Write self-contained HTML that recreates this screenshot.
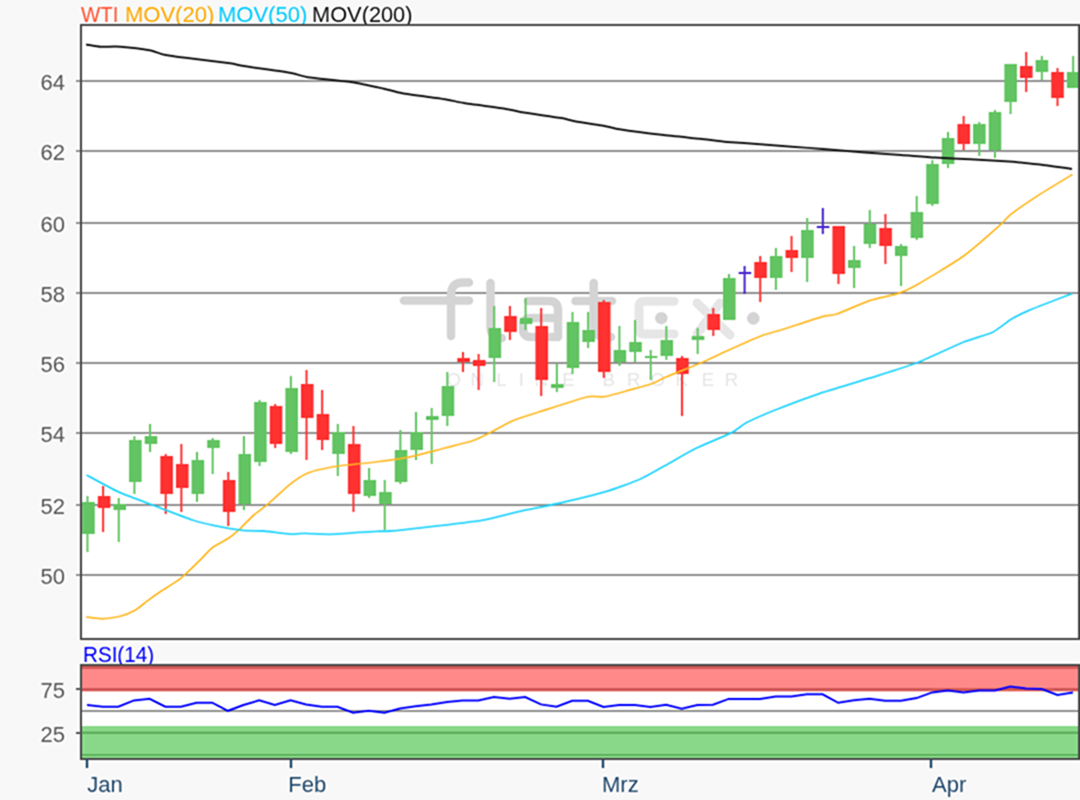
<!DOCTYPE html><html><head><meta charset="utf-8"><style>html,body{margin:0;padding:0;background:#f8f8f8;width:1080px;height:800px;overflow:hidden}svg{display:block}text{font-family:"Liberation Sans",sans-serif}</style></head><body>
<svg width="1080" height="800" viewBox="0 0 1080 800">
<defs><filter id="up" x="0" y="0" width="1080" height="800" filterUnits="userSpaceOnUse" color-interpolation-filters="sRGB"><feConvolveMatrix order="7" kernelMatrix="9 18 -105 -228 -105 18 9 18 36 -210 -456 -210 36 18 -105 -210 1225 2660 1225 -210 -105 -228 -456 2660 5776 2660 -456 -228 -105 -210 1225 2660 1225 -210 -105 18 36 -210 -456 -210 36 18 9 18 -105 -228 -105 18 9" divisor="16384" edgeMode="duplicate"/></filter></defs><g filter="url(#up)">
<rect x="0" y="0" width="1080" height="800" fill="#f8f8f8"/>
<text x="81" y="22" font-size="22" fill="#ff5533" textLength="37.5" lengthAdjust="spacingAndGlyphs">WTI</text>
<text x="125" y="22" font-size="22" fill="#ffaa00">MOV(20)</text>
<text x="218" y="22" font-size="22" fill="#00ccff">MOV(50)</text>
<text x="312" y="22" font-size="22" fill="#111" textLength="100.5" lengthAdjust="spacingAndGlyphs">MOV(200)</text>
<rect x="81" y="25" width="999" height="614" fill="#fff"/>
<line x1="76" y1="575.0" x2="1079" y2="575.0" stroke="#919191" stroke-width="2"/>
<text transform="translate(65,584.0) scale(1,1.04)" font-size="22" fill="#5a5a5a" text-anchor="end">50</text>
<line x1="76" y1="505.0" x2="1079" y2="505.0" stroke="#919191" stroke-width="2"/>
<text transform="translate(65,514.0) scale(1,1.04)" font-size="22" fill="#5a5a5a" text-anchor="end">52</text>
<line x1="76" y1="433.0" x2="1079" y2="433.0" stroke="#919191" stroke-width="2"/>
<text transform="translate(65,442.0) scale(1,1.04)" font-size="22" fill="#5a5a5a" text-anchor="end">54</text>
<line x1="76" y1="363.0" x2="1079" y2="363.0" stroke="#919191" stroke-width="2"/>
<text transform="translate(65,372.0) scale(1,1.04)" font-size="22" fill="#5a5a5a" text-anchor="end">56</text>
<line x1="76" y1="293.0" x2="1079" y2="293.0" stroke="#919191" stroke-width="2"/>
<text transform="translate(65,302.0) scale(1,1.04)" font-size="22" fill="#5a5a5a" text-anchor="end">58</text>
<line x1="76" y1="223.0" x2="1079" y2="223.0" stroke="#919191" stroke-width="2"/>
<text transform="translate(65,232.0) scale(1,1.04)" font-size="22" fill="#5a5a5a" text-anchor="end">60</text>
<line x1="76" y1="151.0" x2="1079" y2="151.0" stroke="#919191" stroke-width="2"/>
<text transform="translate(65,160.0) scale(1,1.04)" font-size="22" fill="#5a5a5a" text-anchor="end">62</text>
<line x1="76" y1="81.0" x2="1079" y2="81.0" stroke="#919191" stroke-width="2"/>
<text transform="translate(65,90.0) scale(1,1.04)" font-size="22" fill="#5a5a5a" text-anchor="end">64</text>
<g fill="none" stroke="#d4d4d4" stroke-width="8.5" stroke-linecap="round" stroke-linejoin="round">
<path d="M404,300.5 H469"/>
<path d="M451,336 V295 Q451,282.5 463,282.5 H469"/>
<path d="M490.5,283 V326 Q490.5,338 502,338"/>
<path d="M528,301 H549 Q558,301 558,310 V337 H531 Q523,337 523,329 V326 Q523,318 531,318 H558"/>
<path d="M593.7,283 V326 Q593.7,337 605,337 H611 M575.5,301 H612"/>
</g>
<g fill="none" stroke="#e6e6e6" stroke-width="9" stroke-linecap="round" stroke-linejoin="round">
<path d="M674,301.2 H644 Q639,301.2 639,306 V329 Q639,334 644,334 H674"/>
<path d="M697,303 L730,335 M720,303 L697,334"/>
</g>
<circle cx="661.3" cy="318.2" r="6.2" fill="#d4d4d4"/><circle cx="753.3" cy="318.4" r="6.3" fill="#d4d4d4"/>
<text x="446.5" y="385.5" font-size="18.5" fill="#e6e6e6">O</text>
<text x="470.5" y="385.5" font-size="18.5" fill="#e6e6e6">N</text>
<text x="496.3" y="385.5" font-size="18.5" fill="#e6e6e6">L</text>
<text x="518.7" y="385.5" font-size="18.5" fill="#e6e6e6">I</text>
<text x="534.5" y="385.5" font-size="18.5" fill="#e6e6e6">N</text>
<text x="562.2" y="385.5" font-size="18.5" fill="#e6e6e6">E</text>
<text x="602.5" y="385.5" font-size="18.5" fill="#e6e6e6">B</text>
<text x="627.0" y="385.5" font-size="18.5" fill="#e6e6e6">R</text>
<text x="650.5" y="385.5" font-size="18.5" fill="#e6e6e6">O</text>
<text x="675.5" y="385.5" font-size="18.5" fill="#e6e6e6">K</text>
<text x="701.8" y="385.5" font-size="18.5" fill="#e6e6e6">E</text>
<text x="724.8" y="385.5" font-size="18.5" fill="#e6e6e6">R</text>
<rect x="86.47" y="496" width="2" height="56" fill="#62c462"/>
<rect x="82.17" y="502" width="12.6" height="32" fill="#62c462"/>
<rect x="102.12" y="486" width="2" height="46" fill="#ff3030"/>
<rect x="97.80" y="496" width="12.6" height="12" fill="#ff3030"/>
<rect x="117.76" y="498" width="2" height="44" fill="#62c462"/>
<rect x="113.43" y="504" width="12.6" height="6" fill="#62c462"/>
<rect x="133.41" y="436" width="2" height="58" fill="#62c462"/>
<rect x="129.06" y="440" width="12.6" height="42" fill="#62c462"/>
<rect x="149.05" y="424" width="2" height="28" fill="#62c462"/>
<rect x="144.69" y="436" width="12.6" height="8" fill="#62c462"/>
<rect x="164.70" y="454" width="2" height="60" fill="#ff3030"/>
<rect x="160.32" y="456" width="12.6" height="38" fill="#ff3030"/>
<rect x="180.35" y="444" width="2" height="68" fill="#ff3030"/>
<rect x="175.95" y="464" width="12.6" height="24" fill="#ff3030"/>
<rect x="195.99" y="452" width="2" height="50" fill="#62c462"/>
<rect x="191.58" y="460" width="12.6" height="34" fill="#62c462"/>
<rect x="211.64" y="438" width="2" height="36" fill="#62c462"/>
<rect x="207.21" y="440" width="12.6" height="8" fill="#62c462"/>
<rect x="227.28" y="472" width="2" height="54" fill="#ff3030"/>
<rect x="222.84" y="480" width="12.6" height="32" fill="#ff3030"/>
<rect x="242.93" y="436" width="2" height="74" fill="#62c462"/>
<rect x="238.47" y="454" width="12.6" height="50" fill="#62c462"/>
<rect x="258.57" y="400" width="2" height="66" fill="#62c462"/>
<rect x="254.10" y="402" width="12.6" height="60" fill="#62c462"/>
<rect x="274.22" y="404" width="2" height="44" fill="#ff3030"/>
<rect x="269.73" y="406" width="12.6" height="38" fill="#ff3030"/>
<rect x="289.87" y="376" width="2" height="78" fill="#62c462"/>
<rect x="285.36" y="388" width="12.6" height="64" fill="#62c462"/>
<rect x="305.51" y="370" width="2" height="90" fill="#ff3030"/>
<rect x="300.99" y="384" width="12.6" height="34" fill="#ff3030"/>
<rect x="321.16" y="390" width="2" height="60" fill="#ff3030"/>
<rect x="316.62" y="414" width="12.6" height="26" fill="#ff3030"/>
<rect x="336.80" y="424" width="2" height="52" fill="#62c462"/>
<rect x="332.25" y="432" width="12.6" height="22" fill="#62c462"/>
<rect x="352.45" y="426" width="2" height="86" fill="#ff3030"/>
<rect x="347.88" y="444" width="12.6" height="50" fill="#ff3030"/>
<rect x="368.10" y="468" width="2" height="30" fill="#62c462"/>
<rect x="363.51" y="480" width="12.6" height="16" fill="#62c462"/>
<rect x="383.74" y="480" width="2" height="50" fill="#62c462"/>
<rect x="379.14" y="492" width="12.6" height="12" fill="#62c462"/>
<rect x="399.39" y="430" width="2" height="54" fill="#62c462"/>
<rect x="394.77" y="450" width="12.6" height="32" fill="#62c462"/>
<rect x="415.03" y="412" width="2" height="48" fill="#62c462"/>
<rect x="410.40" y="432" width="12.6" height="18" fill="#62c462"/>
<rect x="430.68" y="408" width="2" height="56" fill="#62c462"/>
<rect x="426.03" y="416" width="12.6" height="4" fill="#62c462"/>
<rect x="446.33" y="372" width="2" height="54" fill="#62c462"/>
<rect x="441.66" y="386" width="12.6" height="30" fill="#62c462"/>
<rect x="461.97" y="352" width="2" height="20" fill="#ff3030"/>
<rect x="457.29" y="358" width="12.6" height="4" fill="#ff3030"/>
<rect x="477.62" y="354" width="2" height="36" fill="#ff3030"/>
<rect x="472.92" y="360" width="12.6" height="6" fill="#ff3030"/>
<rect x="493.26" y="306" width="2" height="76" fill="#62c462"/>
<rect x="488.55" y="328" width="12.6" height="30" fill="#62c462"/>
<rect x="508.91" y="306" width="2" height="34" fill="#ff3030"/>
<rect x="504.18" y="316" width="12.6" height="16" fill="#ff3030"/>
<rect x="524.55" y="298" width="2" height="32" fill="#62c462"/>
<rect x="519.81" y="318" width="12.6" height="6" fill="#62c462"/>
<rect x="540.20" y="308" width="2" height="88" fill="#ff3030"/>
<rect x="535.44" y="326" width="12.6" height="54" fill="#ff3030"/>
<rect x="555.85" y="364" width="2" height="28" fill="#62c462"/>
<rect x="551.07" y="384" width="12.6" height="4" fill="#62c462"/>
<rect x="571.49" y="312" width="2" height="62" fill="#62c462"/>
<rect x="566.70" y="322" width="12.6" height="46" fill="#62c462"/>
<rect x="587.14" y="312" width="2" height="36" fill="#62c462"/>
<rect x="582.33" y="330" width="12.6" height="12" fill="#62c462"/>
<rect x="602.78" y="300" width="2" height="78" fill="#ff3030"/>
<rect x="597.96" y="302" width="12.6" height="70" fill="#ff3030"/>
<rect x="618.43" y="326" width="2" height="40" fill="#62c462"/>
<rect x="613.59" y="350" width="12.6" height="12" fill="#62c462"/>
<rect x="634.08" y="320" width="2" height="42" fill="#62c462"/>
<rect x="629.22" y="342" width="12.6" height="10" fill="#62c462"/>
<rect x="649.72" y="350" width="2" height="30" fill="#62c462"/>
<rect x="644.85" y="356" width="12.6" height="2" fill="#62c462"/>
<rect x="665.37" y="326" width="2" height="34" fill="#62c462"/>
<rect x="660.48" y="340" width="12.6" height="16" fill="#62c462"/>
<rect x="681.01" y="356" width="2" height="60" fill="#ff3030"/>
<rect x="676.11" y="358" width="12.6" height="16" fill="#ff3030"/>
<rect x="696.66" y="328" width="2" height="26" fill="#62c462"/>
<rect x="691.74" y="336" width="12.6" height="4" fill="#62c462"/>
<rect x="712.30" y="308" width="2" height="28" fill="#ff3030"/>
<rect x="707.37" y="314" width="12.6" height="16" fill="#ff3030"/>
<rect x="727.95" y="274" width="2" height="46" fill="#62c462"/>
<rect x="723.00" y="278" width="12.6" height="42" fill="#62c462"/>
<rect x="743.60" y="266" width="2" height="28" fill="#4422cc"/>
<rect x="738.63" y="272" width="12.6" height="2" fill="#4422cc"/>
<rect x="759.24" y="256" width="2" height="46" fill="#ff3030"/>
<rect x="754.26" y="262" width="12.6" height="16" fill="#ff3030"/>
<rect x="774.89" y="248" width="2" height="42" fill="#62c462"/>
<rect x="769.89" y="256" width="12.6" height="22" fill="#62c462"/>
<rect x="790.53" y="236" width="2" height="36" fill="#ff3030"/>
<rect x="785.52" y="250" width="12.6" height="8" fill="#ff3030"/>
<rect x="806.18" y="218" width="2" height="64" fill="#62c462"/>
<rect x="801.15" y="230" width="12.6" height="28" fill="#62c462"/>
<rect x="821.83" y="208" width="2" height="26" fill="#4422cc"/>
<rect x="816.78" y="226" width="12.6" height="2" fill="#4422cc"/>
<rect x="837.47" y="226" width="2" height="58" fill="#ff3030"/>
<rect x="832.41" y="226" width="12.6" height="48" fill="#ff3030"/>
<rect x="853.12" y="246" width="2" height="42" fill="#62c462"/>
<rect x="848.04" y="260" width="12.6" height="8" fill="#62c462"/>
<rect x="868.76" y="210" width="2" height="38" fill="#62c462"/>
<rect x="863.67" y="224" width="12.6" height="20" fill="#62c462"/>
<rect x="884.41" y="214" width="2" height="50" fill="#ff3030"/>
<rect x="879.30" y="228" width="12.6" height="18" fill="#ff3030"/>
<rect x="900.06" y="244" width="2" height="42" fill="#62c462"/>
<rect x="894.93" y="246" width="12.6" height="10" fill="#62c462"/>
<rect x="915.70" y="196" width="2" height="44" fill="#62c462"/>
<rect x="910.56" y="212" width="12.6" height="26" fill="#62c462"/>
<rect x="931.35" y="160" width="2" height="46" fill="#62c462"/>
<rect x="926.19" y="164" width="12.6" height="40" fill="#62c462"/>
<rect x="946.99" y="132" width="2" height="36" fill="#62c462"/>
<rect x="941.82" y="138" width="12.6" height="26" fill="#62c462"/>
<rect x="962.64" y="116" width="2" height="34" fill="#ff3030"/>
<rect x="957.45" y="124" width="12.6" height="20" fill="#ff3030"/>
<rect x="978.28" y="122" width="2" height="34" fill="#62c462"/>
<rect x="973.08" y="124" width="12.6" height="20" fill="#62c462"/>
<rect x="993.93" y="110" width="2" height="48" fill="#62c462"/>
<rect x="988.71" y="112" width="12.6" height="38" fill="#62c462"/>
<rect x="1009.58" y="64" width="2" height="50" fill="#62c462"/>
<rect x="1004.34" y="64" width="12.6" height="38" fill="#62c462"/>
<rect x="1025.22" y="52" width="2" height="40" fill="#ff3030"/>
<rect x="1019.97" y="66" width="12.6" height="12" fill="#ff3030"/>
<rect x="1040.87" y="56" width="2" height="24" fill="#62c462"/>
<rect x="1035.60" y="60" width="12.6" height="12" fill="#62c462"/>
<rect x="1056.51" y="68" width="2" height="38" fill="#ff3030"/>
<rect x="1051.23" y="72" width="12.6" height="26" fill="#ff3030"/>
<rect x="1072.16" y="56" width="2" height="32" fill="#62c462"/>
<rect x="1066.86" y="72" width="12.6" height="16" fill="#62c462"/>
<path d="M86.1,44.4 C87.6,44.6 97.4,46.5 100.8,46.7 C104.2,46.9 115.4,46.3 120.3,46.7 C125.2,47.1 145.1,49.5 149.4,50.3 C153.7,51.1 159.7,53.6 163.3,54.4 C166.9,55.1 178.9,56.9 185.6,57.8 C192.3,58.7 224.2,62.5 230.0,63.3 C235.8,64.1 237.8,65.1 243.9,66.1 C250.0,67.1 284.6,71.9 291.0,73.0 C297.4,74.1 301.7,76.3 307.8,77.2 C313.9,78.1 344.7,81.1 352.2,82.2 C359.7,83.3 378.0,87.4 383.0,88.5 C388.0,89.6 396.2,92.2 402.4,93.3 C408.5,94.4 438.3,98.2 444.5,99.2 C450.7,100.2 457.9,102.0 464.0,103.0 C470.1,104.0 499.9,107.9 506.0,108.9 C512.1,109.9 520.0,111.9 525.5,112.8 C531.0,113.7 556.0,117.1 561.2,118.0 C566.4,118.9 573.2,121.0 577.4,121.8 C581.6,122.6 599.1,125.0 603.3,125.7 C607.5,126.5 613.7,128.4 619.5,129.3 C625.3,130.2 653.6,133.9 661.6,134.8 C669.6,135.8 693.5,138.1 700.0,138.8 C706.5,139.5 721.0,141.5 727.0,142.0 C733.0,142.5 753.5,143.7 760.0,144.2 C766.5,144.7 785.7,146.2 792.0,146.7 C798.3,147.2 815.7,148.4 823.0,149.0 C830.3,149.6 857.2,151.9 865.0,152.5 C872.8,153.1 894.0,154.5 901.0,155.0 C908.0,155.5 928.1,157.2 935.0,157.6 C941.9,158.0 963.0,158.8 970.0,159.2 C977.0,159.6 998.0,160.8 1005.0,161.3 C1012.0,161.8 1033.3,163.7 1040.0,164.5 C1046.7,165.3 1068.8,168.6 1072.0,169.0" fill="none" stroke="#111" stroke-width="2"/>
<path d="M86.2,617.0 C87.8,617.2 99.2,618.8 102.5,618.8 C105.8,618.7 116.1,617.3 119.4,616.5 C122.7,615.7 132.3,611.9 135.1,610.3 C137.9,608.7 144.9,602.7 147.5,600.8 C150.1,598.8 157.7,593.4 161.0,591.2 C164.3,589.0 176.2,581.9 180.1,578.8 C184.0,575.7 196.8,563.4 200.0,560.2 C203.2,557.1 209.6,549.7 212.5,547.5 C215.4,545.3 226.0,539.9 228.8,538.0 C231.5,536.1 237.5,531.0 240.0,528.8 C242.5,526.5 251.0,517.4 253.8,515.0 C256.5,512.6 263.9,507.5 267.5,504.4 C271.1,501.3 286.1,487.5 290.0,484.4 C293.9,481.3 303.2,475.2 306.2,473.8 C309.2,472.3 316.4,470.3 320.0,469.5 C323.6,468.7 336.6,466.2 342.2,465.5 C347.8,464.8 368.8,462.8 375.5,462.0 C382.2,461.2 401.9,458.6 408.9,457.2 C415.8,455.8 438.6,449.6 445.0,448.0 C451.4,446.4 467.9,442.4 472.5,440.8 C477.1,439.2 486.8,434.3 490.8,432.3 C494.8,430.3 507.3,423.1 512.2,421.0 C517.1,418.9 532.2,414.2 539.7,411.8 C547.2,409.4 580.2,398.5 586.7,397.0 C593.2,395.5 600.2,397.4 604.4,396.7 C608.6,396.0 623.6,391.7 628.3,390.4 C633.0,389.1 647.2,385.4 651.0,384.0 C654.8,382.6 661.8,378.8 666.7,376.7 C671.6,374.6 693.8,366.0 700.0,363.3 C706.2,360.6 722.7,352.8 728.9,350.0 C735.1,347.2 756.8,337.6 762.2,335.5 C767.6,333.4 776.5,331.4 782.5,329.5 C788.5,327.6 817.0,318.2 822.4,316.6 C827.8,315.1 832.2,315.6 836.9,314.0 C841.6,312.4 863.3,302.7 869.5,300.6 C875.7,298.5 893.8,295.0 898.5,293.4 C903.2,291.8 910.1,288.7 916.6,285.0 C923.1,281.3 955.4,262.0 963.7,256.0 C972.0,250.0 995.3,229.4 1000.0,225.2 C1004.7,221.0 1006.8,217.5 1010.8,214.4 C1014.8,211.3 1033.6,198.4 1039.8,194.4 C1046.0,190.4 1069.1,176.5 1072.4,174.5" fill="none" stroke="#ffb820" stroke-width="1.7"/>
<path d="M86.5,475.0 C89.7,476.7 111.5,488.7 118.5,491.9 C125.5,495.1 149.6,503.9 157.0,506.7 C164.4,509.5 187.0,518.1 192.6,520.0 C198.2,521.9 208.3,524.3 213.3,525.3 C218.3,526.3 238.0,529.8 243.0,530.4 C248.0,531.0 259.0,530.6 263.7,531.0 C268.4,531.4 286.3,534.0 290.4,534.2 C294.5,534.4 301.7,533.3 305.0,533.3 C308.3,533.3 320.0,534.1 323.0,534.2 C326.0,534.3 331.2,534.4 334.8,534.2 C338.4,534.0 354.4,532.7 358.5,532.4 C362.6,532.1 373.2,531.4 376.3,531.3 C379.4,531.2 385.6,531.3 390.0,531.0 C394.4,530.7 411.4,529.0 420.6,527.9 C429.8,526.8 471.9,521.9 481.7,520.3 C491.5,518.7 510.7,513.4 518.3,511.7 C525.9,510.0 549.4,505.4 558.0,503.5 C566.6,501.6 595.6,494.6 603.9,492.2 C612.1,489.8 633.8,482.0 640.5,479.0 C647.2,476.0 665.6,465.2 671.1,462.2 C676.6,459.1 689.4,451.5 695.5,448.5 C701.6,445.5 726.6,435.2 731.7,432.6 C736.8,430.0 741.9,425.1 746.2,422.8 C750.6,420.5 768.0,412.9 775.2,410.0 C782.5,407.1 809.3,397.0 818.7,393.8 C828.1,390.6 859.7,381.3 869.5,378.2 C879.3,375.1 907.2,366.6 916.6,363.0 C926.0,359.4 956.1,345.1 963.7,342.0 C971.3,338.9 988.0,334.4 992.7,332.2 C997.4,329.9 1007.2,321.7 1010.8,319.5 C1014.4,317.3 1022.8,313.0 1029.0,310.4 C1035.2,307.8 1068.1,295.1 1072.4,293.4" fill="none" stroke="#22d4ff" stroke-width="1.8"/>
<rect x="81" y="25" width="998" height="614" fill="none" stroke="#484848" stroke-width="2"/>
<text x="83" y="661.5" font-size="22" fill="#0000ff" textLength="71" lengthAdjust="spacingAndGlyphs">RSI(14)</text>
<rect x="81" y="665" width="999" height="94" fill="#fff"/>
<rect x="81" y="666" width="998" height="25.5" fill="#ff8888"/>
<rect x="81" y="666" width="998" height="3" fill="#d05858"/>
<rect x="81" y="688" width="998" height="3" fill="#d05858"/>
<rect x="81" y="726" width="998" height="33" fill="#88d888"/>
<rect x="81" y="731.5" width="998" height="2.5" fill="#5cb05c"/>
<rect x="81" y="754" width="998" height="2" fill="#5cb05c"/>
<line x1="81" y1="711" x2="1079" y2="711" stroke="#919191" stroke-width="2"/>
<polyline points="87.0,705.0 102.7,706.7 118.3,706.7 134.0,700.4 149.6,698.8 165.3,706.7 180.9,706.7 196.6,702.7 212.2,702.7 227.9,710.8 243.5,705.0 259.2,700.4 274.8,705.0 290.5,700.4 306.1,704.4 321.8,706.7 337.4,706.7 353.1,712.7 368.7,710.8 384.4,712.7 400.0,708.5 415.7,706.2 431.3,704.4 447.0,702.0 462.6,700.4 478.3,700.4 493.9,697.0 509.6,698.8 525.2,697.0 540.9,704.4 556.5,706.7 572.2,700.7 587.8,700.7 603.5,707.0 619.1,705.1 634.8,705.1 650.4,707.0 666.1,704.7 681.7,708.8 697.4,705.1 713.0,704.7 728.7,698.9 744.3,698.9 760.0,698.9 775.6,696.6 791.3,696.6 806.9,694.3 822.6,694.3 838.2,702.8 853.9,700.2 869.5,698.7 885.2,700.7 900.9,700.7 916.5,698.1 932.2,692.4 947.8,690.4 963.5,692.4 979.1,690.4 994.8,690.4 1010.4,686.5 1026.1,688.6 1041.7,689.1 1057.4,695.0 1073.0,692.4" fill="none" stroke="#0000ff" stroke-width="2"/>
<rect x="81" y="665" width="998" height="94" fill="none" stroke="#484848" stroke-width="2"/>
<line x1="76" y1="689" x2="81" y2="689" stroke="#555" stroke-width="2"/>
<text transform="translate(65,698.0) scale(1,1.04)" font-size="22" fill="#5a5a5a" text-anchor="end">75</text>
<line x1="76" y1="733" x2="81" y2="733" stroke="#555" stroke-width="2"/>
<text transform="translate(65,742.0) scale(1,1.04)" font-size="22" fill="#5a5a5a" text-anchor="end">25</text>
<line x1="87" y1="759" x2="87" y2="768" stroke="#234a6e" stroke-width="2.4"/>
<text x="87.3" y="792" font-size="22" fill="#234a6e">Jan</text>
<line x1="291" y1="759" x2="291" y2="768" stroke="#234a6e" stroke-width="2.4"/>
<text x="288.3" y="792" font-size="22" fill="#234a6e">Feb</text>
<line x1="603" y1="759" x2="603" y2="768" stroke="#234a6e" stroke-width="2.4"/>
<text x="602.0" y="792" font-size="22" fill="#234a6e">Mrz</text>
<line x1="931" y1="759" x2="931" y2="768" stroke="#234a6e" stroke-width="2.4"/>
<text x="932.0" y="792" font-size="22" fill="#234a6e">Apr</text>
</g></svg></body></html>
